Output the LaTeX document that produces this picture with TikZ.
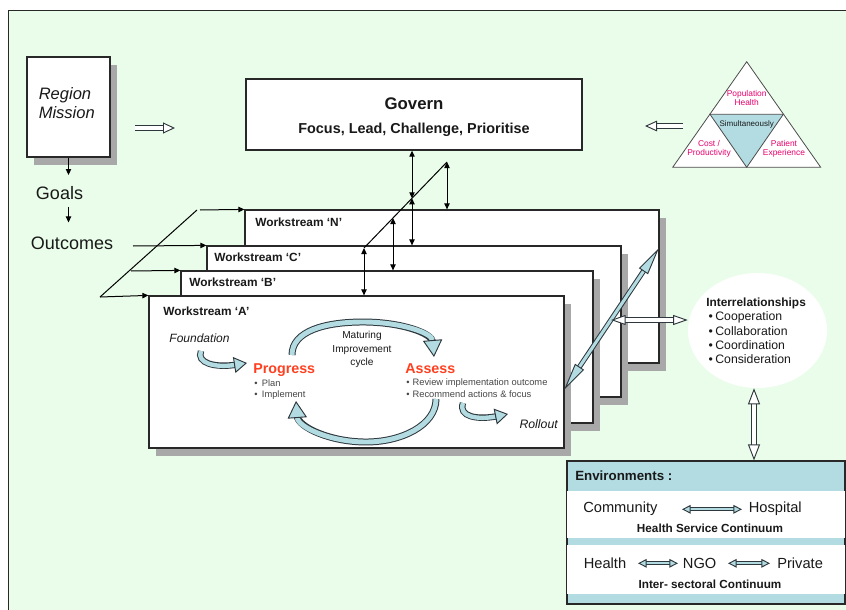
\documentclass[tikz,border=0pt]{standalone}
\usepackage{fontspec}
\setmainfont{Liberation Sans}
\usetikzlibrary{arrows.meta,shapes.geometric,shadows}
\definecolor{bg}{RGB}{234,253,234}
\definecolor{lb}{RGB}{178,220,226}
\definecolor{edgec}{RGB}{45,55,60}
\definecolor{shc}{RGB}{168,168,168}
\definecolor{txt}{RGB}{25,25,25}
\definecolor{redt}{RGB}{255,64,32}
\definecolor{pinkt}{RGB}{232,0,110}
\definecolor{framec}{RGB}{40,40,40}
\definecolor{smallt}{RGB}{70,70,70}
\newcommand{\fsz}[2]{\fontsize{#1}{#2}\selectfont}
\begin{document}
\begin{tikzpicture}[x=0.75pt,y=-0.75pt,
  box/.style={draw=framec, line width=0.9pt, fill=white, inner sep=0pt},
  shbox/.style={box, drop shadow={shadow xshift=5.5pt, shadow yshift=-6pt, fill=shc, opacity=1}},
  lbl/.style={inner sep=0pt, text=txt},
  thinln/.style={draw=black, line width=0.75pt},
  arr/.style={thinln, -{Triangle[length=4.5pt,width=4pt]}},
  darr/.style={thinln, {Triangle[length=4.5pt,width=4pt]}-{Triangle[length=4.5pt,width=4pt]}},
  blk/.style n args={4}{draw=#4, line width=#1-1.5pt,
     -{Triangle[length=#2,width=#3,fill=#4,color=edgec,line width=0.7pt]},
     preaction={draw=edgec, line width=#1, -, shorten >=#2-1.5pt}},
  blkd/.style n args={4}{draw=#4, line width=#1-1.5pt,
     {Triangle[length=#2,width=#3,fill=#4,color=edgec,line width=0.7pt]}-{Triangle[length=#2,width=#3,fill=#4,color=edgec,line width=0.7pt]},
     preaction={draw=edgec, line width=#1, -, shorten >=#2-1.5pt, shorten <=#2-1.5pt}},
]
\useasboundingbox (0,0) rectangle (846,610);
\fill[white] (0,0) rectangle (846,610);
\draw[fill=bg, draw=framec, line width=0.9pt] (8.5,10.5) rectangle (870,630);

% Region mission
\node[shbox, minimum width=62.25pt, minimum height=75pt] (rm) at (68.5,107) {};
\node[lbl, anchor=base west, font=\itshape\fsz{12.4}{15}] (rm1) at (38.5,99.5) {Region};
\node[lbl, anchor=base west, font=\itshape\fsz{12.4}{15}] (rm2) at (38.5,118.5) {Mission};
\node[lbl, anchor=base, font=\fsz{13.5}{16}] (goals) at (59.5,199) {Goals};
\node[lbl, anchor=base, font=\fsz{13.5}{16}] (outc) at (72,249.3) {Outcomes};
\draw[arr, shorten >=8pt] (rm.south) -- (rm.south |- goals.north);
\draw[arr, shorten <=6pt, shorten >=10.5pt] (goals.south -| rm.south) -- (outc.north -| rm.south);

% Govern
\node[box, line width=1pt, minimum width=252pt, minimum height=53.25pt] (gov) at (414,114.5) {};
\node[lbl, anchor=base, font=\bfseries\fsz{12.6}{15}] (govt) at (414,109) {Govern};
\node[lbl, anchor=base, font=\bfseries\fsz{10.8}{13}] (govs) at (414,133) {Focus, Lead, Challenge, Prioritise};
\coordinate (h1s) at (135,128);
\coordinate (h1e) at (175,128);
\draw[blk={4.5pt}{9pt}{8.25pt}{white}] (h1s) -- (h1e);

% Triangle
\coordinate (tA) at (746.7,61.7);
\coordinate (tL) at (672.7,167.3);
\coordinate (tR) at (820.7,167.3);
\coordinate (tml) at (710,114.3);
\coordinate (tmr) at (783.3,114.3);
\coordinate (tmb) at (746.7,167.3);
\draw[fill=white, draw=gray!60!black, line width=0.6pt] (tA) -- (tL) -- (tR) -- cycle;
\draw[fill=lb, draw=gray!60!black, line width=0.6pt] (tml) -- (tmr) -- (tmb) -- cycle;
\node[lbl, anchor=base, text=pinkt, font=\fsz{6.3}{7.5}] (tp1) at (746.7,96.7) {Population};
\node[lbl, anchor=base, text=pinkt, font=\fsz{6.3}{7.5}] (tp2) at (746.7,105) {Health};
\node[lbl, anchor=base, font=\fsz{6}{7.5}] (ts) at (746.7,127) {Simultaneously};
\node[lbl, anchor=base, text=pinkt, font=\fsz{6.3}{7.5}] (tc1) at (709,146.7) {Cost /};
\node[lbl, anchor=base, text=pinkt, font=\fsz{6.3}{7.5}] (tc2) at (709,155.5) {Productivity};
\node[lbl, anchor=base, text=pinkt, font=\fsz{6.3}{7.5}] (te1) at (784,146.5) {Patient};
\node[lbl, anchor=base, text=pinkt, font=\fsz{6.3}{7.5}] (te2) at (784,155.5) {Experience};
\coordinate (h2s) at (683,126);
\coordinate (h2e) at (645,126);
\draw[blk={4.2pt}{9pt}{8pt}{white}] (h2s) -- (h2e);

% Workstreams
\node[shbox, minimum width=310.5pt, minimum height=114.75pt] (wsN) at (452,286.5) {};
\node[lbl, anchor=base west, font=\bfseries\fsz{8.9}{10}] (lN) at (255,226.5) {Workstream `N'};
\node[shbox, minimum width=310.5pt, minimum height=113.25pt] (wsC) at (414,321.5) {};
\node[lbl, anchor=base west, font=\bfseries\fsz{8.9}{10}] (lC) at (214,261.5) {Workstream `C'};
\node[shbox, minimum width=309pt, minimum height=114pt] (wsB) at (387,347) {};
\node[lbl, anchor=base west, font=\bfseries\fsz{8.9}{10}] (lB) at (189,286.5) {Workstream `B'};
\node[shbox, minimum width=311.25pt, minimum height=114pt] (wsA) at (356.5,372) {};
\node[lbl, anchor=base west, font=\bfseries\fsz{8.9}{10}] (lA) at (163,315.5) {Workstream `A'};

% left diagonal and arrows
\coordinate (dl1) at (100,297);
\coordinate (dl2) at (197,210);
\draw[thinln] (dl1) -- (dl2);
\coordinate (sN) at (200,210);
\coordinate (sC) at (133,246);
\coordinate (sB) at (131,271);
\draw[arr] (sN) -- (wsN.north west);
\draw[arr] (sC) -- (wsC.north west);
\draw[arr] (sB) -- (wsB.north west);
\draw[arr] (dl1) -- (wsA.north west);

% right diagonal and vertical links
\coordinate (dr1) at (447,162);
\coordinate (dr2) at (364,248);
\coordinate (g1) at (412,198.3);
\coordinate (g2) at (393,218);
\draw[thinln] (dr1) -- (dr2);
\draw[darr] (gov.south -| g1) -- (g1);
\draw[darr] (g1) -- (g1 |- wsC.north);
\draw[darr] (dr1) -- (dr1 |- wsN.north);
\draw[darr] (g2) -- (g2 |- wsB.north);
\draw[darr] (dr2) -- (dr2 |- wsA.north);

% Workstream A content
\node[lbl, anchor=base, font=\itshape\fsz{9}{11}] (found) at (199.5,342.5) {Foundation};
\coordinate (fs) at (201,351);
\coordinate (fe) at (247,363);
\draw[blk={4.8pt}{9.75pt}{12pt}{lb}] (fs) .. controls (196,363) and (215,368) .. (fe);
\node[lbl, anchor=base west, text=redt, font=\bfseries\fsz{10.7}{12}] (prog) at (253,373) {Progress};
\node[lbl, anchor=base west, text=smallt, font=\fsz{7}{8}] (pl1) at (254,386) {\textbullet\hspace{3.3pt}Plan};
\node[lbl, anchor=base west, text=smallt, font=\fsz{7}{8}] (pl2) at (254,397.5) {\textbullet\hspace{3.3pt}Implement};
\node[lbl, anchor=base, font=\fsz{7.6}{9}] (m1) at (362,338.5) {Maturing};
\node[lbl, anchor=base, font=\fsz{7.6}{9}] (m2) at (362,352) {Improvement};
\node[lbl, anchor=base, font=\fsz{7.6}{9}] (m3) at (362,365) {cycle};
\node[lbl, anchor=base west, text=redt, font=\bfseries\fsz{10.7}{12}] (ass) at (405,373.3) {Assess};
\node[lbl, anchor=base west, text=smallt, font=\fsz{7}{8}] (as1) at (406,385.7) {\textbullet\hspace{2.3pt}Review implementation outcome};
\node[lbl, anchor=base west, text=smallt, font=\fsz{7}{8}] (as2) at (406,397.3) {\textbullet\hspace{2.3pt}Recommend actions \& focus};
\node[lbl, anchor=base east, font=\itshape\fsz{9.2}{11}] (roll) at (558,428.3) {Rollout};
\coordinate (c1s) at (292,355);
\coordinate (c1m) at (363,322);
\coordinate (c1e) at (434,357);
\draw[blk={5.2pt}{12.75pt}{14.5pt}{lb}] (c1s) .. controls (292,331) and (325,322) .. (c1m) .. controls (401,322) and (432,333) .. (c1e);
\coordinate (c2s) at (436,399);
\coordinate (c2m) at (366,442);
\coordinate (c2e) at (296,401);
\draw[blk={5.2pt}{12.75pt}{14.5pt}{lb}] (c2s) .. controls (436,425) and (402,442) .. (c2m) .. controls (330,442) and (298,427) .. (c2e);
\coordinate (rs) at (463,403);
\coordinate (re) at (508,414);
\draw[blk={4.8pt}{9.75pt}{12pt}{lb}] (rs) .. controls (458,417) and (478,420) .. (re);

% light blue diagonal
\coordinate (lb1) at (564,390);
\coordinate (lb2) at (659,248);
\draw[blkd={3.8pt}{21pt}{8pt}{lb}] (lb1) -- (lb2);

% Interrelationships
\node[ellipse, fill=white, minimum width=104.25pt, minimum height=86.25pt, inner sep=0pt] (ell) at (757.5,330.5) {};
\node[lbl, anchor=base west, font=\bfseries\fsz{8.9}{10}] (ir) at (706,306.7) {Interrelationships};
\node[lbl, anchor=base west, font=\fsz{9.2}{11}] (ir1) at (708.4,320.7) {\textbullet\hspace{1.8pt}Cooperation};
\node[lbl, anchor=base west, font=\fsz{9.2}{11}] (ir2) at (708.4,335) {\textbullet\hspace{1.8pt}Collaboration};
\node[lbl, anchor=base west, font=\fsz{9.2}{11}] (ir3) at (708.4,349.3) {\textbullet\hspace{1.8pt}Coordination};
\node[lbl, anchor=base west, font=\fsz{9.2}{11}] (ir4) at (708.4,363.5) {\textbullet\hspace{1.8pt}Consideration};
\coordinate (lbm) at (611,320);
\draw[blkd={4pt}{11pt}{7.5pt}{white}] (lbm) -- (lbm -| ell.west);

% Environments
\node[box, fill=lb, minimum width=208.5pt, minimum height=107.25pt] (env) at (706,532.5) {};
\fill[white] (env.west |- 0,491) rectangle (env.east |- 0,538);
\fill[white] (env.west |- 0,545) rectangle (env.east |- 0,594);
\draw[draw=framec, line width=0.9pt] (env.north west) rectangle (env.south east);
\coordinate (va) at (754,0);
\draw[blkd={4.4pt}{12pt}{9pt}{white}] (ell.south -| va) -- (env.north -| va);
\node[lbl, anchor=base west, font=\bfseries\fsz{10}{12}] (envt) at (575,480) {Environments :};
\node[lbl, anchor=base west, font=\fsz{11}{13}] (comm) at (583,512.5) {Community};
\node[lbl, anchor=base west, font=\fsz{11}{13}] (hosp) at (748.5,512.5) {Hospital};
\coordinate (e1a) at (682,509.3);
\coordinate (e1b) at (742,509.3);
\draw[blkd={3.2pt}{6.5pt}{6.5pt}{lb}] (e1a) -- (e1b);
\node[lbl, anchor=base, font=\bfseries\fsz{8.8}{10}] (hsc) at (710,532) {Health Service Continuum};
\node[lbl, anchor=base west, font=\fsz{11}{13}] (hl) at (583.5,568.3) {Health};
\node[lbl, anchor=base west, font=\fsz{11}{13}] (ngo) at (682.7,568.3) {NGO};
\node[lbl, anchor=base west, font=\fsz{11}{13}] (priv) at (777,568.3) {Private};
\coordinate (e2a) at (638,563.3);
\coordinate (e2b) at (678,563.3);
\coordinate (e3a) at (728,563.3);
\coordinate (e3b) at (770,563.3);
\draw[blkd={3.2pt}{6.5pt}{6.5pt}{lb}] (e2a) -- (e2b);
\draw[blkd={3.2pt}{6.5pt}{6.5pt}{lb}] (e3a) -- (e3b);
\node[lbl, anchor=base, font=\bfseries\fsz{8.8}{10}] (isc) at (710,588) {Inter- sectoral Continuum};
\end{tikzpicture}
\end{document}
